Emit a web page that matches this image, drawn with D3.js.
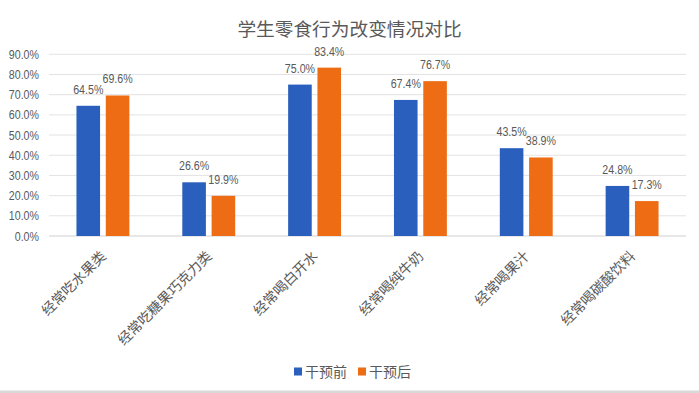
<!DOCTYPE html>
<html><head><meta charset="utf-8">
<script src="https://cdn.jsdelivr.net/npm/d3@7"></script>
<style>html,body{margin:0;padding:0;background:#fff;}svg{display:block;}</style>
</head><body>
<svg id="chart" width="699" height="393"></svg>
<script>
const title = "学生零食行为改变情况对比";
const categories = ["经常吃水果类","经常吃糖果巧克力类","经常喝白开水","经常喝纯牛奶","经常喝果汁","经常喝碳酸饮料"];
const seriesNames = ["干预前","干预后"];
const before = [64.5, 26.6, 75.0, 67.4, 43.5, 24.8];
const after = [69.6, 19.9, 83.4, 76.7, 38.9, 17.3];
const yTicks = [0,10,20,30,40,50,60,70,80,90];
const colors = ["#2A5FBD","#EE6D14"];

const series = [before, after];
const svg = d3.select("#chart");
const gray = "#595959";
const numFont = "'Liberation Sans', Arial, sans-serif";
const cjkFont = "'Noto Sans CJK SC', sans-serif";

const x = d3.scaleBand().domain(categories).range([50, 685]);
const xs = d3.scaleBand().domain([0,1]).range([0, x.bandwidth()]).paddingInner(0.195).paddingOuter(0.903);
const y = d3.scaleLinear().domain([0, 90]).range([236, 54.3]);

// title
svg.append("text").attr("x", 349.5).attr("y", 36).attr("text-anchor","middle")
  .attr("font-family", cjkFont).attr("font-size", 18.7).attr("fill", gray).text(title);

// gridlines
svg.append("g").selectAll("line").data(yTicks.filter(d=>d>0)).join("line")
  .attr("x1", 49).attr("x2", 686).attr("y1", d=>y(d)).attr("y2", d=>y(d))
  .attr("stroke", "#e3e3e3").attr("stroke-width", 1);
svg.append("line").attr("x1",49).attr("x2",686).attr("y1",y(0)).attr("y2",y(0))
  .attr("stroke","#d0d0d0").attr("stroke-width",1.2);

// y tick labels
svg.append("g").selectAll("text").data(yTicks).join("text")
  .attr("transform", d=>`translate(39,${y(d)+4.5}) scale(0.82,1)`)
  .attr("text-anchor","end").attr("font-family", numFont).attr("font-size", 13)
  .attr("fill", gray).text(d=>d3.format(".1f")(d)+"%");

// bars
series.forEach((vals, si) => {
  const g = svg.append("g");
  g.selectAll("rect").data(vals).join("rect")
    .attr("x", (d,i)=>x(categories[i]) + xs(si))
    .attr("width", xs.bandwidth())
    .attr("y", d=>y(d)).attr("height", d=>y(0)-y(d))
    .attr("fill", colors[si]);
  g.selectAll("text").data(vals).join("text")
    .attr("transform", (d,i)=>`translate(${x(categories[i]) + xs(si) + xs.bandwidth()/2},${y(d)-12}) scale(0.82,1)`)
    .attr("text-anchor","middle").attr("font-family", numFont).attr("font-size", 13)
    .attr("fill", gray).text(d=>d3.format(".1f")(d)+"%");
});

// category labels
svg.append("g").selectAll("text").data(categories).join("text")
  .attr("transform", d=>`translate(${x(d)+x.bandwidth()/2+4},257) rotate(-45)`)
  .attr("text-anchor","end").attr("font-family", cjkFont).attr("font-size", 14)
  .attr("fill", gray).text(d=>d);

// legend
const legX = [294, 358];
seriesNames.forEach((n, i) => {
  svg.append("rect").attr("x", legX[i]).attr("y", 367.5).attr("width", 8).attr("height", 8).attr("fill", colors[i]);
  svg.append("text").attr("x", legX[i]+11).attr("y", 377).attr("font-family", cjkFont)
    .attr("font-size", 14).attr("fill", gray).text(n);
});

// bottom border
svg.append("rect").attr("x",0).attr("y",390.5).attr("width",699).attr("height",2.5).attr("fill","#d9d9d9");
</script>
</body></html>
